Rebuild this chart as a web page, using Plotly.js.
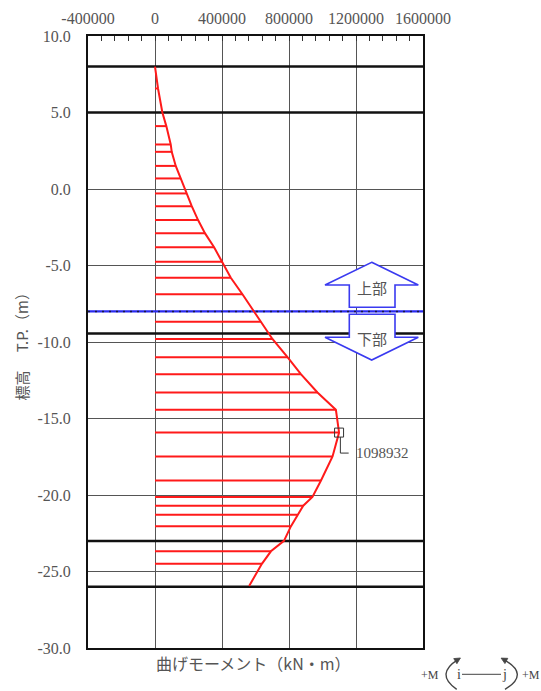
<!DOCTYPE html>
<html>
<head>
<meta charset="utf-8">
<script src="https://cdn.plot.ly/plotly-3.0.1.min.js"></script>
<style>html,body{margin:0;padding:0;background:#fff;}#chart{width:541px;height:691px;}</style>
</head>
<body>
<div id="chart"></div>
<script>
// ---- data ----
const xTickVals = [-400000, 0, 400000, 800000, 1200000, 1600000];
const yTickVals = [10, 5, 0, -5, -10, -15, -20, -25, -30];

// bending moment diagram (elevation T.P. m, moment kN·m)
const curveElev = [8.0, 6.57, 5.0, 4.11, 2.91, 2.43, 1.51, 0.69, -0.29, -1.12, -2.03, -2.90, -3.81, -4.75, -5.80, -6.88, -8.67, -9.80, -10.99, -12.10, -13.30, -14.43, -15.92, -17.48, -19.05, -20.13, -20.70, -21.29, -22.05, -23.0, -23.68, -24.50, -25.95];
const curveM    = [0, 18000, 44000, 67600, 93900, 99800, 123800, 153700, 187100, 219400, 257100, 299000, 352800, 402400, 452600, 522000, 632000, 701000, 791000, 871000, 970000, 1080000, 1098932, 1060000, 991000, 940000, 885000, 851000, 811000, 770000, 692000, 638000, 562000];

// hatch lines (node positions)
const hatchElev = [6.57, 4.11, 2.91, 2.43, 1.51, 0.69, -0.29, -1.12, -2.03, -2.90, -3.81, -4.75, -5.80, -6.88, -8.67, -9.80, -10.99, -12.10, -13.30, -14.43, -15.92, -17.48, -19.05, -20.13, -20.70, -21.29, -22.05, -23.68, -24.50];
const hatchM    = [18000, 67600, 93900, 99800, 123800, 153700, 187100, 219400, 257100, 299000, 352800, 402400, 452600, 522000, 632000, 701000, 791000, 871000, 970000, 1080000, 1098932, 1060000, 991000, 940000, 885000, 851000, 811000, 692000, 638000];

// layer boundaries (thick black lines) and division level
const boundaryElev = [8.0, 5.0, -9.45, -23.0, -26.0];
const divisionElev = -8.0;
const maxM = 1098932;
const maxElev = -15.92;

const xRange = [-400000, 1600000];
const yRange = [-30, 10];

// ---- geometry helpers ----
const M = {l: 88, r: 118, t: 36, b: 43};
const W = 541 - M.l - M.r, H = 691 - M.t - M.b;
const PX = px => (px - M.l) / W;           // pixel -> paper x
const PY = py => (M.t + H - py) / H;       // pixel -> paper y
const DX = p => p * (xRange[1] - xRange[0]) / W;   // pixel offset -> data x
const DY = p => p * (yRange[1] - yRange[0]) / H;   // pixel offset -> data y
const XD = px => xRange[0] + (px - M.l) * (xRange[1] - xRange[0]) / W; // pixel -> data x
const YD = py => yRange[1] - (py - M.t) * (yRange[1] - yRange[0]) / H; // pixel -> data y

// ---- traces ----
const bx = [], by = [];
boundaryElev.forEach(e => { bx.push(xRange[0], xRange[1], null); by.push(e, e, null); });
const hx = [], hy = [];
hatchElev.forEach((e, i) => { hx.push(0, hatchM[i], null); hy.push(e, e, null); });

const traces = [
  {x: bx, y: by, mode: 'lines', line: {color: '#111', width: 2.5}, hoverinfo: 'skip'},
  {x: xRange, y: [divisionElev, divisionElev], mode: 'lines', line: {color: '#2a2af0', width: 2.2}, hoverinfo: 'skip'},
  {x: xRange, y: [divisionElev, divisionElev], mode: 'lines', line: {color: '#1a1a40', width: 1.5, dash: '2px,5px'}, hoverinfo: 'skip'},
  {x: hx, y: hy, mode: 'lines', line: {color: '#ff1a1a', width: 2}, hoverinfo: 'skip'},
  {x: curveM, y: curveElev, mode: 'lines', line: {color: '#ff1a1a', width: 2}},
  {x: [maxM], y: [maxElev], mode: 'markers', marker: {symbol: 'square-open', size: 9, color: '#333', line: {width: 1, color: '#333'}}}
];

// ---- shapes ----
const shapes = [];
// arrows (upper / lower)
const upArrow = [[371.7,262.3],[418.3,285],[395,285],[395,307.3],[349.3,307.3],[349.3,285],[325,285]];
const dnArrow = [[349.3,314.3],[395,314.3],[395,337.3],[418.3,337.3],[371.7,360],[325,337.3],[349.3,337.3]];
function polyPath(pts) {
  return 'M ' + pts.map(p => XD(p[0]) + ',' + YD(p[1])).join(' L ') + ' Z';
}
[upArrow, dnArrow].forEach(pts => shapes.push({
  type: 'path', xref: 'x', yref: 'y', path: polyPath(pts),
  line: {color: '#3a3af0', width: 1.6}, fillcolor: '#ffffff', layer: 'above'
}));
// leader for max annotation
shapes.push({
  type: 'path', xref: 'x', yref: 'y', layer: 'above',
  path: `M ${maxM + DX(1.3)},${maxElev - DY(4.5)} L ${maxM + DX(1.3)},${maxElev - DY(20.5)} L ${maxM + DX(9.6)},${maxElev - DY(20.5)}`,
  line: {color: '#333', width: 1}
});
// sign convention symbol (bottom right)
function arcWithHead(p0, c, p2) {
  shapes.push({type: 'path', xref: 'paper', yref: 'paper', layer: 'above',
    path: `M ${PX(p0[0])},${PY(p0[1])} Q ${PX(c[0])},${PY(c[1])} ${PX(p2[0])},${PY(p2[1])}`,
    line: {color: '#444', width: 1.4}});
  let dx = p2[0] - c[0], dy = p2[1] - c[1];
  const n = Math.hypot(dx, dy); dx /= n; dy /= n;
  const tip = [p2[0] + 2.5 * dx, p2[1] + 2.5 * dy];
  const back = [tip[0] - 6 * dx, tip[1] - 6 * dy];
  const pa = [back[0] + 3 * (-dy), back[1] + 3 * dx];
  const pb = [back[0] - 3 * (-dy), back[1] - 3 * dx];
  shapes.push({type: 'path', xref: 'paper', yref: 'paper', layer: 'above',
    path: `M ${PX(tip[0])},${PY(tip[1])} L ${PX(pa[0])},${PY(pa[1])} L ${PX(pb[0])},${PY(pb[1])} Z`,
    line: {color: '#444', width: 0.8}, fillcolor: '#444'});
}
arcWithHead([456.7, 689.3], [434.5, 674], [458.3, 659.3]);
arcWithHead([505, 689.3], [530.4, 674], [503.3, 659.3]);
shapes.push({type: 'line', xref: 'paper', yref: 'paper', layer: 'above',
  x0: PX(462), x1: PX(501), y0: PY(674.3), y1: PY(674.3), line: {color: '#444', width: 1}});

// ---- annotations ----
const gray = '#555';
const serif = 'Liberation Serif, DejaVu Serif, serif';
const cjk = 'Noto Sans CJK JP, Noto Sans CJK SC, sans-serif';
const ann = (o) => Object.assign({showarrow: false, xanchor: 'center', yanchor: 'middle'}, o);
const annotations = [
  ann({xref: 'x', yref: 'y', x: XD(371.7), y: YD(287.5), text: '上部',
   font: {family: cjk, size: 15, color: gray}}),
  ann({xref: 'x', yref: 'y', x: XD(371.7), y: YD(338), text: '下部',
   font: {family: cjk, size: 15, color: gray}}),
  ann({xref: 'x', yref: 'y', x: maxM + DX(15), y: maxElev - DY(20.5), text: String(maxM),
   xanchor: 'left', font: {family: serif, size: 15, color: gray}}),
  ann({xref: 'paper', yref: 'paper', x: PX(253), y: PY(662.5), text: '曲げモーメント（kN・m）',
   font: {family: cjk, size: 16, color: gray}}),
  ann({xref: 'paper', yref: 'paper', x: PX(20.5), y: PY(343), text: '標高　 T.P.（m）', textangle: -90,
   font: {family: cjk, size: 15, color: gray}}),
  ann({xref: 'paper', yref: 'paper', x: PX(429.7), y: PY(675), text: '+M',
   font: {family: serif, size: 12, color: '#444'}}),
  ann({xref: 'paper', yref: 'paper', x: PX(531), y: PY(675), text: '+M',
   font: {family: serif, size: 12, color: '#444'}}),
  ann({xref: 'paper', yref: 'paper', x: PX(458.8), y: PY(674), text: 'i',
   font: {family: serif, size: 14, color: '#444'}}),
  ann({xref: 'paper', yref: 'paper', x: PX(504), y: PY(674), text: 'j',
   font: {family: serif, size: 14, color: '#444'}})
];

const tickFont = {family: serif, size: 16, color: gray};
const layout = {
  width: 541, height: 691,
  margin: M,
  paper_bgcolor: '#fff', plot_bgcolor: '#fff',
  showlegend: false,
  xaxis: {
    range: xRange, side: 'top',
    tickmode: 'array', tickvals: xTickVals, ticktext: xTickVals.map(String),
    ticks: 'inside', ticklen: 5, tickcolor: '#333', tickwidth: 1,
    minor: {tickmode: 'linear', tick0: 0, dtick: 80000, ticks: 'inside', ticklen: 5, tickcolor: '#333', showgrid: false},
    showgrid: true, gridcolor: '#555', gridwidth: 1, zeroline: false,
    showline: true, linecolor: '#111', linewidth: 2, mirror: true,
    tickfont: tickFont, ticklabelstandoff: 4, fixedrange: true
  },
  yaxis: {
    range: yRange,
    tickmode: 'array', tickvals: yTickVals, ticktext: yTickVals.map(v => v.toFixed(1)),
    ticks: '', showgrid: true, gridcolor: '#555', gridwidth: 1, zeroline: false,
    showline: true, linecolor: '#111', linewidth: 2, mirror: true,
    tickfont: tickFont, ticklabelstandoff: 12, fixedrange: true
  },
  shapes: shapes,
  annotations: annotations
};

Plotly.newPlot('chart', traces, layout, {displayModeBar: false, staticPlot: true});
</script>
</body>
</html>
